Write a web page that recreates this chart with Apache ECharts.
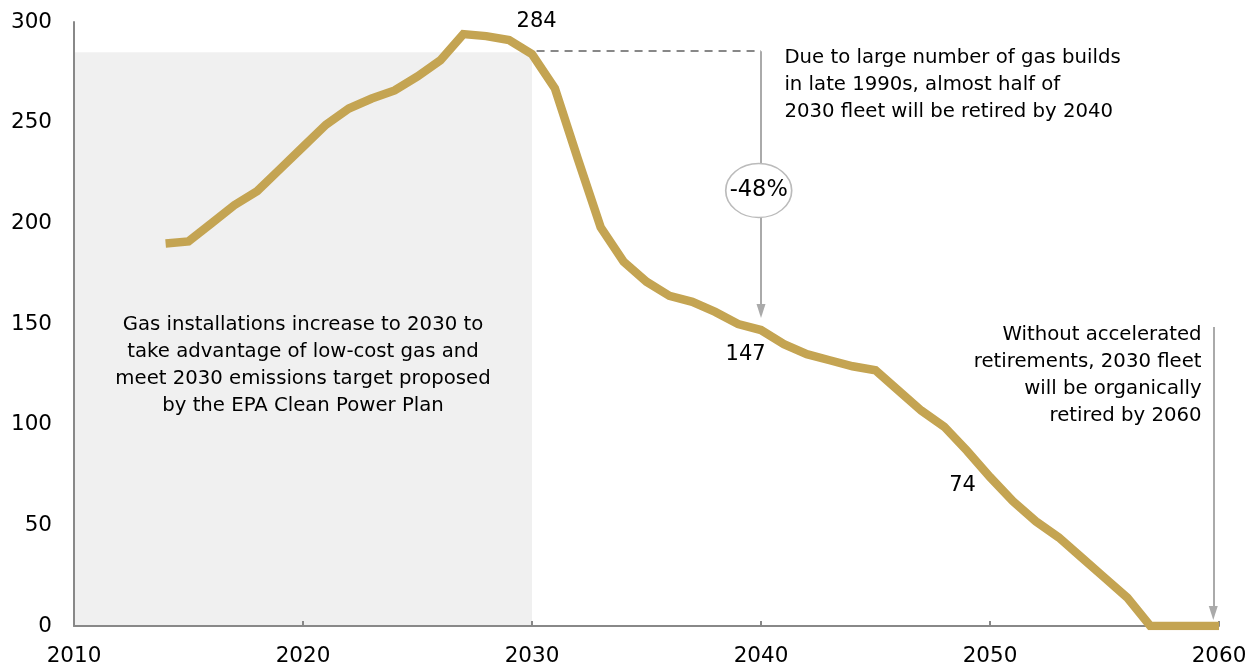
<!DOCTYPE html>
<html>
<head>
<meta charset="utf-8">
<script src="https://cdn.jsdelivr.net/npm/echarts@6/dist/echarts.min.js"></script>
<style>html,body{margin:0;padding:0;background:#fff}#c{width:1259px;height:667px}</style>
</head>
<body>
<div id="c"></div>
<script>
const years = [2014,2015,2016,2017,2018,2019,2020,2021,2022,2023,2024,2025,2026,2027,2028,2029,2030,2031,2032,2033,2034,2035,2036,2037,2038,2039,2040,2041,2042,2043,2044,2045,2046,2047,2048,2049,2050,2051,2052,2053,2054,2055,2056,2057,2058,2059,2060];
const fleet = [190,191,200,209,216,227,238,249,257,262,266,273,281,294,293,291,284,267,232,198,181,171,164,161,156,150,147,140,135,132,129,127,117,107,99,87,74,62,52,44,34,24,14,0,0,0,0,0];
const xTicks = [2010,2020,2030,2040,2050,2060];
const yTicks = [0,50,100,150,200,250,300];
const peakLabel = '284', midLabel = '147', lateLabel = '74', dropLabel = '-48%';
const noteLeft = 'Gas installations increase to 2030 to\ntake advantage of low-cost gas and\nmeet 2030 emissions target proposed\nby the EPA Clean Power Plan';
const noteTop = 'Due to large number of gas builds\nin late 1990s, almost half of\n2030 fleet will be retired by 2040';
const noteRight = 'Without accelerated\nretirements, 2030 fleet\nwill be organically\nretired by 2060';

const FONT = 'DejaVu Sans';
const txt = (extra) => Object.assign({show:true, color:'#000', fontFamily:FONT, fontSize:19.7, lineHeight:27}, extra);
const blank = {symbol:'circle', symbolSize:1, itemStyle:{color:'rgba(0,0,0,0)'}};

const chart = echarts.init(document.getElementById('c'), null, {renderer:'canvas'});
chart.setOption({
  animation:false,
  grid:{left:74, right:40, top:22, bottom:39, containLabel:false},
  xAxis:{type:'value', min:xTicks[0], max:xTicks[xTicks.length-1], interval:10, z:1,
    axisLine:{show:true, lineStyle:{color:'#888', width:2}},
    axisTick:{show:true, inside:true, length:5, lineStyle:{color:'#888', width:2}},
    splitLine:{show:false},
    axisLabel:{color:'#000', fontFamily:FONT, fontSize:21.5, margin:19, formatter:v=>String(v)}},
  yAxis:{type:'value', min:yTicks[0], max:yTicks[yTicks.length-1], interval:50, z:1,
    axisLine:{show:true, lineStyle:{color:'#888', width:2}},
    axisTick:{show:false}, splitLine:{show:false},
    axisLabel:{color:'#000', fontFamily:FONT, fontSize:21.5, margin:22}},
  series:[
    {type:'line', z:0, data:[], silent:true,
      markArea:{silent:true, itemStyle:{color:'#f0f0f0'}, label:{show:false},
        data:[[{coord:[2010,285]},{coord:[2030,0]}]]}},
    {type:'line', z:2, data:years.map((y,i)=>[y,fleet[i]]), showSymbol:false, symbol:'none',
      lineStyle:{color:'#c4a452', width:8.5, cap:'butt', join:'miter'}, itemStyle:{color:'#c4a452'}},
    {type:'line', z:3, data:[], silent:true,
      markLine:{silent:true, animation:false, label:{show:false},
        data:[
          [{coord:[2030.2,285.5], symbol:'none', lineStyle:{color:'#888', width:2, type:[8,6]}},{coord:[2040,285.5], symbol:'none'}],
          [{coord:[2040,285.5], symbol:'none', lineStyle:{color:'#aaa', width:2, type:'solid'}},{coord:[2040,156.5], symbol:'triangle', symbolSize:[9,14], symbolRotate:180}],
          [{coord:[2059.75,148.5], symbol:'none', lineStyle:{color:'#aaa', width:2, type:'solid'}},{coord:[2059.75,6.5], symbol:'triangle', symbolSize:[9,14], symbolRotate:180}]
        ]}},
    {type:'line', z:4, data:[], silent:true,
      markPoint:{silent:true, animation:false,
        data:[
          {coord:[2039.9,216.3], symbol:'circle', symbolSize:[66,54], itemStyle:{color:'#fff', borderColor:'#bbb', borderWidth:1.5},
            label:txt({position:'inside', fontSize:22.5, formatter:dropLabel})},
          Object.assign({coord:[2030.2,300], label:txt({position:'inside', fontSize:21, formatter:peakLabel})}, blank),
          Object.assign({coord:[2039.33,134.7], label:txt({position:'inside', fontSize:21, formatter:midLabel})}, blank),
          Object.assign({coord:[2048.8,69.8], label:txt({position:'inside', fontSize:21, formatter:lateLabel})}, blank),
          Object.assign({coord:[2020,129.5], label:txt({position:'inside', align:'center', formatter:noteLeft})}, blank),
          Object.assign({coord:[2041,269], label:txt({position:'right', distance:0, align:'left', formatter:noteTop})}, blank),
          Object.assign({coord:[2059.26,124.5], label:txt({position:'left', distance:0, align:'right', formatter:noteRight})}, blank)
        ]}}
  ]
});
</script>
</body>
</html>
